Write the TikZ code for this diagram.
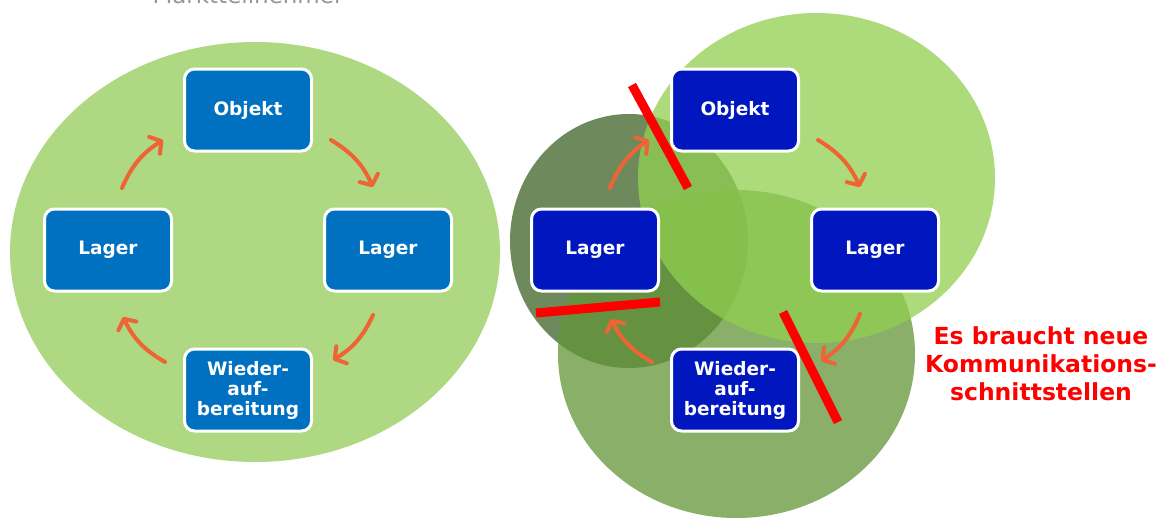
\documentclass[tikz,border=0pt]{standalone}
\usepackage{fontspec}
\setmainfont{DejaVu Sans}
\usetikzlibrary{arrows.meta}
\definecolor{ellgreen}{RGB}{174,216,130}
\definecolor{lightc}{RGB}{146,208,80}
\definecolor{midc}{RGB}{99,149,56}
\definecolor{darkc}{RGB}{62,100,38}
\definecolor{boxblue}{RGB}{0,112,192}
\definecolor{boxdeep}{RGB}{0,22,190}
\definecolor{arroworange}{RGB}{238,100,52}
\definecolor{cutred}{RGB}{255,0,0}
\definecolor{titlegray}{RGB}{150,150,150}
\begin{document}
\begin{tikzpicture}[x=1pt,y=1pt,
  box/.style={draw=white, line width=3pt, rounded corners=10pt,
    minimum width=127pt, minimum height=82pt, text=white,
    font=\fontsize{18.5}{20}\selectfont\bfseries, align=center, inner sep=0pt},
  lbox/.style={box, fill=boxblue},
  rbox/.style={box, fill=boxdeep},
  cyc/.style={draw=arroworange, line width=4pt, line cap=round,
    -{Straight Barb[length=8pt,width=20pt,round]}, bend left=17},
  cutline/.style={draw=cutred, line width=9pt},
  blob/.style={fill opacity=.75}]
\useasboundingbox (0,0) rectangle (1159,-520);
\fill[white] (0,0) rectangle (1159,-520);

% title (cut off at top)
\node[text=titlegray, font=\fontsize{23}{23}\selectfont, anchor=base] (title) at (248,-3) {Marktteilnehmer};

% left side
\fill[ellgreen] (255,-252) ellipse [x radius=245, y radius=210];
\node[lbox] (lo) at (248,-110) {Objekt};
\node[lbox] (ll) at (108,-250) {Lager};
\node[lbox] (lr) at (388,-250) {Lager};
\node[lbox] (lw) at (248,-390) {Wieder-\\auf-\\bereitung};

\coordinate (la1) at (122,-188); \coordinate (la2) at (163,-140);
\coordinate (lb1) at (331,-140); \coordinate (lb2) at (373,-187);
\coordinate (lc1) at (373,-315); \coordinate (lc2) at (333,-360);
\coordinate (ld1) at (165,-362); \coordinate (ld2) at (123,-317);
\draw[cyc] (la1) to (la2);
\draw[cyc] (lb1) to (lb2);
\draw[cyc] (lc1) to (lc2);
\draw[cyc] (ld1) to (ld2);

% right side
\fill[darkc, blob] (629,-241) ellipse [x radius=119, y radius=127];
\fill[midc, blob] (736.5,-354) ellipse [x radius=178.5, y radius=164];
\fill[lightc, blob] (816.5,-178) ellipse [x radius=178.5, y radius=165];

\node[rbox] (ro) at (735,-110) {Objekt};
\node[rbox] (rl) at (595,-250) {Lager};
\node[rbox] (rr) at (875,-250) {Lager};
\node[rbox] (rw) at (735,-390) {Wieder-\\auf-\\bereitung};

\coordinate (ra1) at (610,-188); \coordinate (ra2) at (649,-140);
\coordinate (rb1) at (818,-140); \coordinate (rb2) at (860,-187);
\coordinate (rc1) at (860,-314); \coordinate (rc2) at (821,-361);
\coordinate (rd1) at (652,-362); \coordinate (rd2) at (611,-319);
\draw[cyc] (ra1) to (ra2);
\draw[cyc] (rb1) to (rb2);
\draw[cyc] (rc1) to (rc2);
\draw[cyc] (rd1) to (rd2);

\coordinate (x1a) at (632,-85);  \coordinate (x1b) at (688,-188);
\coordinate (x2a) at (536,-313); \coordinate (x2b) at (660,-302);
\coordinate (x3a) at (783,-312); \coordinate (x3b) at (838,-422);
\draw[cutline] (x1a) -- (x1b);
\draw[cutline] (x2a) -- (x2b);
\draw[cutline] (x3a) -- (x3b);

\node[text=cutred, font=\fontsize{23.5}{28}\selectfont\bfseries, align=center] (msg) at (1041,-364)
  {Es braucht neue\\Kommunikations-\\schnittstellen};
\end{tikzpicture}
\end{document}
